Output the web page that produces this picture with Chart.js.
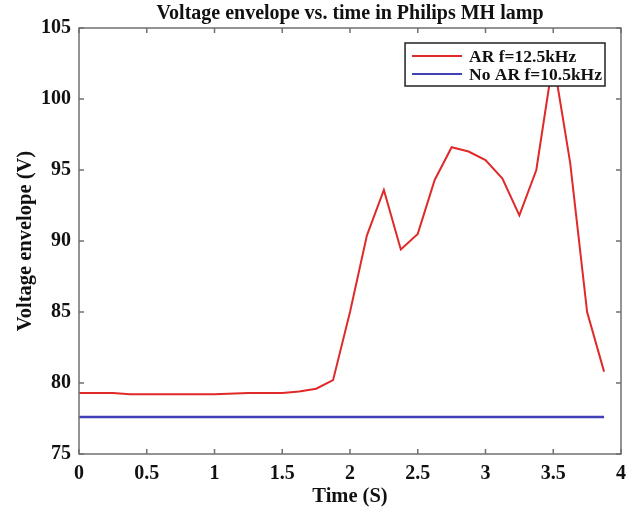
<!DOCTYPE html>
<html>
<head>
<meta charset="utf-8">
<script src="https://cdn.jsdelivr.net/npm/chart.js@4.4.1/dist/chart.umd.min.js"></script>
<style>
  html, body { margin: 0; padding: 0; background: #fff; }
  #wrap { width: 636px; height: 512px; }
</style>
</head>
<body>
<div id="wrap"><canvas id="c" width="636" height="512"></canvas></div>
<script>
// ---- data ----
const arTimes   = [0, 0.25, 0.375, 0.5, 0.75, 1.0, 1.25, 1.5, 1.625, 1.75, 1.875, 2.0, 2.125, 2.25, 2.375, 2.5, 2.625, 2.75, 2.875, 3.0, 3.125, 3.25, 3.375, 3.5, 3.625, 3.75, 3.875];
const arVoltage = [79.3, 79.3, 79.2, 79.2, 79.2, 79.2, 79.3, 79.3, 79.4, 79.6, 80.2, 85.0, 90.4, 93.6, 89.4, 90.5, 94.3, 96.6, 96.3, 95.7, 94.4, 91.8, 95.0, 102.8, 95.5, 85.0, 80.8];
const noArTimes   = [0, 3.875];
const noArVoltage = [77.6, 77.6];
const xTicks = [0, 0.5, 1, 1.5, 2, 2.5, 3, 3.5, 4];
const yTicks = [75, 80, 85, 90, 95, 100, 105];
const seriesLabels = ['AR f=12.5kHz', 'No AR f=10.5kHz'];

const FONT = '"Liberation Serif", "Times New Roman", serif';
const AXIS_COLOR = '#707070';

const boxAndTicks = {
  id: 'boxAndTicks',
  afterDatasetsDraw(chart) {
    const {ctx, chartArea: a, scales: {x, y}} = chart;
    ctx.save();
    ctx.strokeStyle = AXIS_COLOR;
    ctx.lineWidth = 1.5;
    ctx.strokeRect(a.left, a.top, a.right - a.left, a.bottom - a.top);
    const L = 5;
    ctx.beginPath();
    xTicks.forEach(v => {
      const px = x.getPixelForValue(v);
      ctx.moveTo(px, a.bottom); ctx.lineTo(px, a.bottom - L);
      ctx.moveTo(px, a.top); ctx.lineTo(px, a.top + L);
    });
    yTicks.forEach(v => {
      const py = y.getPixelForValue(v);
      ctx.moveTo(a.left, py); ctx.lineTo(a.left + L, py);
      ctx.moveTo(a.right, py); ctx.lineTo(a.right - L, py);
    });
    ctx.stroke();
    ctx.restore();
  }
};

const boxLegend = {
  id: 'boxLegend',
  afterDraw(chart) {
    const {ctx, chartArea: a} = chart;
    ctx.save();
    ctx.font = 'bold 17.5px ' + FONT;
    const sets = chart.data.datasets;
    let maxW = 0;
    sets.forEach(d => { maxW = Math.max(maxW, ctx.measureText(d.label).width); });
    const padL = 7, lineLen = 50, gap = 7, padR = 3;
    const w = padL + lineLen + gap + maxW + padR;
    const rowH = 18, h = 43;
    const right = a.right - 16, top = a.top + 15;
    const left = right - w;
    ctx.fillStyle = '#ffffff';
    ctx.fillRect(left, top, w, h);
    ctx.strokeStyle = '#222';
    ctx.lineWidth = 1.5;
    ctx.strokeRect(left, top, w, h);
    sets.forEach((d, i) => {
      const cy = top + 13 + i * rowH;
      ctx.strokeStyle = d.borderColor;
      ctx.lineWidth = 2;
      ctx.beginPath();
      ctx.moveTo(left + padL, cy);
      ctx.lineTo(left + padL + lineLen, cy);
      ctx.stroke();
      ctx.fillStyle = '#111';
      ctx.textBaseline = 'middle';
      ctx.textAlign = 'left';
      ctx.fillText(d.label, left + padL + lineLen + gap, cy + 1);
    });
    ctx.restore();
  }
};

new Chart(document.getElementById('c'), {
  type: 'line',
  data: {
    datasets: [
      {
        label: seriesLabels[0],
        data: arTimes.map((t, i) => ({x: t, y: arVoltage[i]})),
        borderColor: '#e02a2a',
        borderWidth: 2,
        pointRadius: 0,
        tension: 0,
        fill: false
      },
      {
        label: seriesLabels[1],
        data: noArTimes.map((t, i) => ({x: t, y: noArVoltage[i]})),
        borderColor: '#4040b8',
        borderWidth: 2.5,
        pointRadius: 0,
        tension: 0,
        fill: false
      }
    ]
  },
  options: {
    responsive: false,
    animation: false,
    layout: { padding: { left: 0, right: 15, top: 0, bottom: 0 } },
    plugins: {
      legend: { display: false },
      tooltip: { enabled: false },
      title: {
        display: true,
        fullSize: false,
        text: 'Voltage envelope vs. time in Philips MH lamp',
        color: '#111',
        font: { family: FONT, size: 20, weight: 'bold', lineHeight: 1.2 },
        padding: { top: 2, bottom: 2 }
      }
    },
    scales: {
      x: {
        type: 'linear',
        min: 0, max: 4,
        afterFit(s) { s.height = 58; },
        afterBuildTicks(s) { s.ticks = xTicks.map(v => ({value: v})); },
        grid: { display: false, drawTicks: false },
        border: { display: false },
        ticks: {
          color: '#111',
          padding: 8,
          font: { family: FONT, size: 20, weight: 'bold' },
          callback: v => String(v),
          maxRotation: 0,
          autoSkip: false
        },
        title: {
          display: true,
          text: 'Time (S)',
          color: '#111',
          font: { family: FONT, size: 20.5, weight: 'bold', lineHeight: 1.2 },
          padding: { top: 0, bottom: 3 }
        }
      },
      y: {
        type: 'linear',
        min: 75, max: 105,
        afterFit(s) { s.width = 79; },
        afterBuildTicks(s) { s.ticks = yTicks.map(v => ({value: v})); },
        grid: { display: false, drawTicks: false },
        border: { display: false },
        ticks: {
          color: '#111',
          padding: 8,
          font: { family: FONT, size: 20, weight: 'bold' },
          callback: v => String(v),
          autoSkip: false
        },
        title: {
          display: true,
          text: 'Voltage envelope (V)',
          color: '#111',
          font: { family: FONT, size: 20.5, weight: 'bold', lineHeight: 1.2 },
          padding: { top: 13, bottom: 0 }
        }
      }
    }
  },
  plugins: [boxAndTicks, boxLegend]
});
</script>
</body>
</html>
